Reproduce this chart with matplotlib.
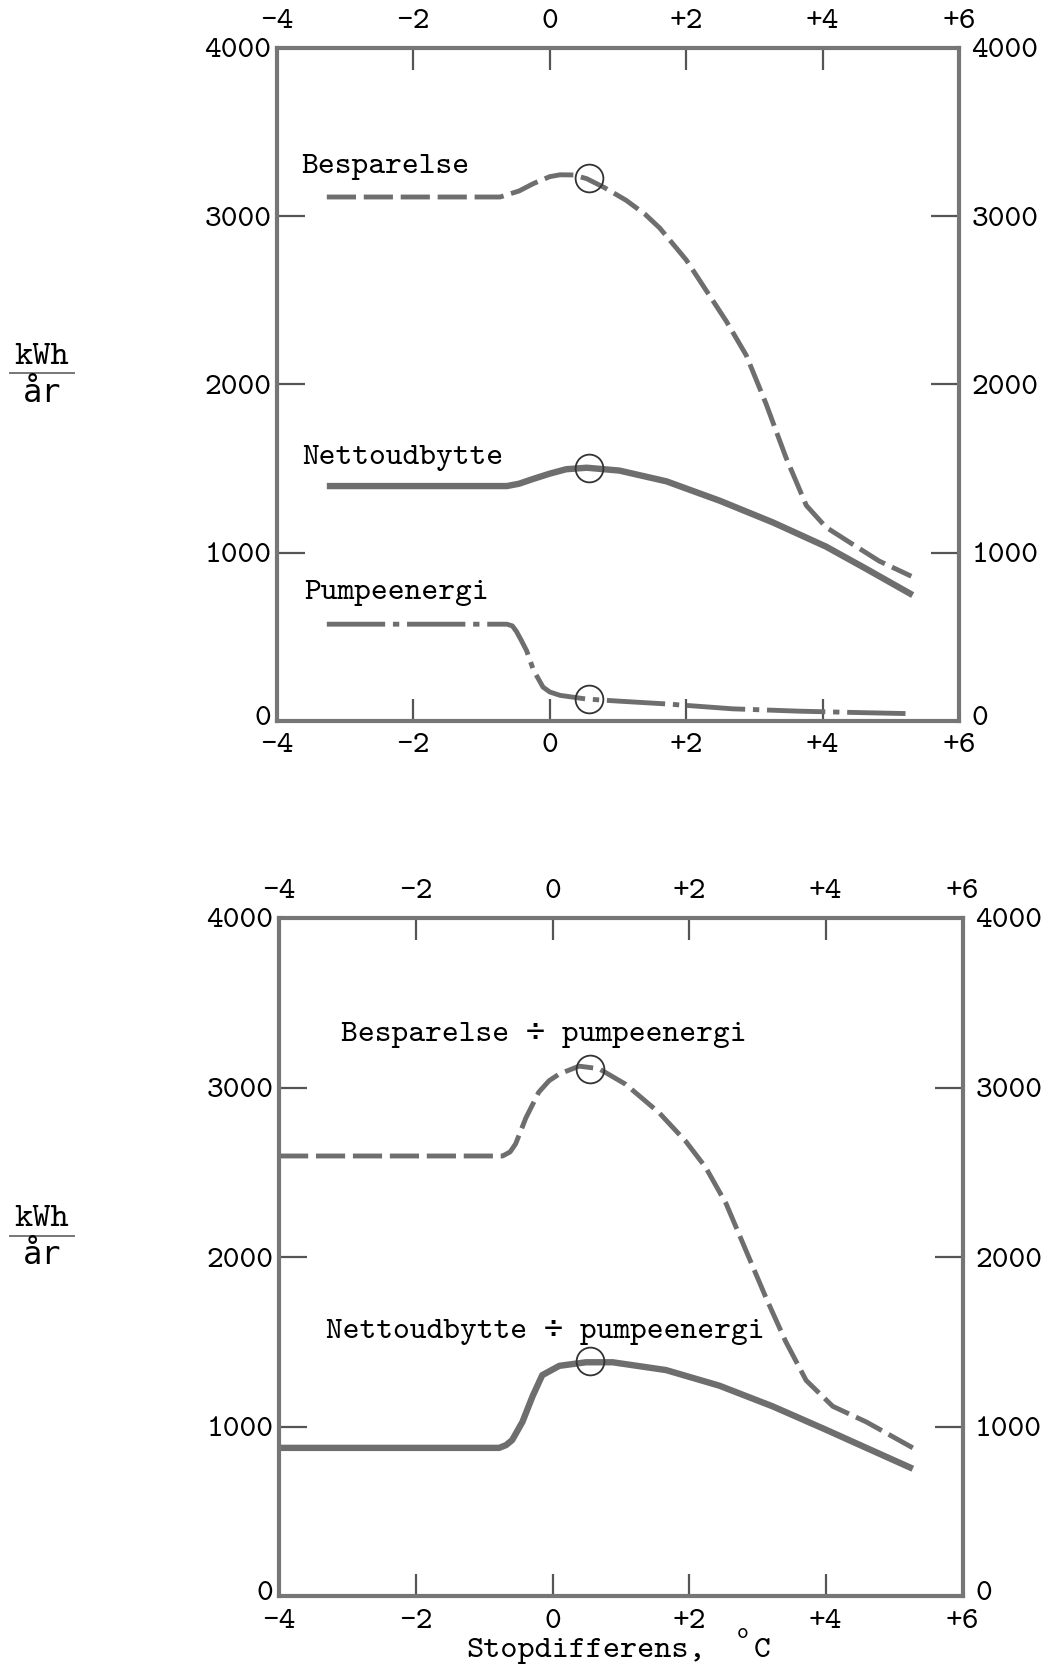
import matplotlib
matplotlib.use("Agg")
import matplotlib.pyplot as plt
from matplotlib.lines import Line2D
from matplotlib.transforms import ScaledTranslation

# ---- data (x: stopdifferens degC, y: kWh/aar) ----
besp_x = [-3.27, -2.0, -0.73, -0.45, -0.24, 0.0, 0.15, 0.35, 0.54, 0.8, 1.12, 1.4, 1.61, 2.0, 2.29,
          2.59, 2.88, 3.17, 3.46, 3.76, 4.05, 4.44, 4.83, 5.3]
besp_y = [3114, 3114, 3114, 3150, 3194, 3235, 3246, 3245, 3223, 3170, 3094, 3010, 2930, 2740, 2560,
          2374, 2173, 1885, 1568, 1281, 1151, 1050, 950, 860]

netto_x = [-3.27, -2.0, -0.63, -0.45, -0.24, 0.0, 0.24, 0.54, 1.02, 1.71, 2.49, 3.27, 4.05, 4.63, 5.32]
netto_y = [1396, 1396, 1396, 1410, 1439, 1470, 1496, 1505, 1488, 1424, 1309, 1180, 1036, 906, 748]

pumpe_x = [-3.27, -2.0, -0.63, -0.55, -0.49, -0.42, -0.34, -0.24, -0.1, 0.0, 0.15, 0.54, 1.0, 1.71,
           2.68, 3.66, 4.5, 5.32]
pumpe_y = [575, 575, 575, 565, 532, 480, 417, 302, 201, 172, 152, 130, 118, 101, 72, 58, 50, 43]

bp_x = [-4.0, -2.0, -0.73, -0.62, -0.54, -0.39, -0.2, -0.05, 0.1, 0.39, 0.68, 1.07, 1.56, 1.95, 2.24,
        2.54, 2.83, 3.12, 3.41, 3.71, 4.1, 4.59, 5.27]
bp_y = [2596, 2596, 2596, 2620, 2667, 2820, 2973, 3040, 3080, 3126, 3111, 3019, 2851, 2682, 2529,
        2314, 2038, 1762, 1502, 1272, 1119, 1027, 874]

np_x = [-4.0, -2.0, -0.78, -0.68, -0.59, -0.44, -0.29, -0.15, 0.1, 0.49, 0.88, 1.66, 2.44, 3.22,
        4.0, 4.59, 5.27]
np_y = [874, 874, 874, 890, 920, 1027, 1180, 1303, 1358, 1379, 1379, 1333, 1241, 1119, 981, 874, 751]

# optimum markers (circles)
opt_top_x = [0.58, 0.58, 0.58]
opt_top_y = [3225, 1505, 132]
opt_bot_x = [0.55, 0.55]
opt_bot_y = [3110, 1384]

xticks = [-4, -2, 0, 2, 4, 6]
xticklabels = ["-4", "-2", "0", "+2", "+4", "+6"]
yticks = [0, 1000, 2000, 3000, 4000]
yticklabels = ["0", "1000", "2000", "3000", "4000"]

FONT = ["cmtt10", "DejaVu Sans Mono"]
FS = 23
LC = "#6e6e6e"
plt.rcParams["font.family"] = FONT
plt.rcParams["axes.unicode_minus"] = False

fig = plt.figure(figsize=(10.47, 16.70), dpi=100)
ax1 = fig.add_axes([0.2646, 0.5683, 0.6514, 0.403])
ax2 = fig.add_axes([0.2665, 0.0443, 0.653, 0.406])


def frame(ax):
    ax.set_xlim(-4, 6); ax.set_ylim(0, 4000)
    for s in ax.spines.values():
        s.set_linewidth(3.0); s.set_color("#767676")
    ax.set_xticks(xticks); ax.set_xticklabels(xticklabels)
    ax.set_yticks(yticks); ax.set_yticklabels(yticklabels)
    ax.tick_params(axis="x", direction="in", length=16, width=1.6, color="#555555",
                   top=True, bottom=True, labeltop=True, labelbottom=True, labelsize=FS, pad=9)
    ax.tick_params(axis="y", direction="in", length=20, width=1.6, color="#555555",
                   left=True, right=True, labelleft=True, labelright=True, labelsize=FS, pad=4)
    right_shift = ScaledTranslation(5 / 72, 0, fig.dpi_scale_trans)
    up_shift = ScaledTranslation(0, 4 / 72, fig.dpi_scale_trans)
    for t in ax.yaxis.get_major_ticks():
        t.label2.set_transform(t.label2.get_transform() + right_shift)
        if t.get_loc() == 0:
            t.label1.set_transform(t.label1.get_transform() + up_shift)
            t.label2.set_transform(t.label2.get_transform() + up_shift)
    # no tick marks at the corners
    for t in ax.xaxis.get_major_ticks():
        if t.get_loc() in (-4, 6):
            t.tick1line.set_visible(False); t.tick2line.set_visible(False)
    for t in ax.yaxis.get_major_ticks():
        if t.get_loc() in (0, 4000):
            t.tick1line.set_visible(False); t.tick2line.set_visible(False)


frame(ax1); frame(ax2)

dash = (0, (6.0, 1.6))
dashdot = (0, (12, 1.6, 1.3, 1.6))

# top panel
ax1.plot(besp_x, besp_y, color=LC, lw=3.5, ls=dash)
ax1.plot(netto_x, netto_y, color=LC, lw=4.6, solid_capstyle="butt")
ax1.plot(pumpe_x, pumpe_y, color=LC, lw=3.5, ls=dashdot)
ax1.plot(opt_top_x, opt_top_y, ls="none", marker="o", ms=20, mfc="none", mec="#333333", mew=1.3)
ax1.text(-3.64, 3290, "Besparelse", fontsize=FS, va="center", ha="left")
ax1.text(-3.63, 1565, "Nettoudbytte", fontsize=FS, va="center", ha="left")
ax1.text(-3.60, 760, "Pumpeenergi", fontsize=FS, va="center", ha="left")

# bottom panel
ax2.plot(bp_x, bp_y, color=LC, lw=3.5, ls=dash)
ax2.plot(np_x, np_y, color=LC, lw=4.6, solid_capstyle="butt")
ax2.plot(opt_bot_x, opt_bot_y, ls="none", marker="o", ms=20, mfc="none", mec="#333333", mew=1.3)
ax2.text(-3.10, 3310, "Besparelse ÷ pumpeenergi", fontsize=FS, va="center", ha="left")
ax2.text(-3.31, 1560, "Nettoudbytte ÷ pumpeenergi", fontsize=FS, va="center", ha="left")

# x label with degree sign
fig.text(466 / 1047, 1 - 1657 / 1670, "Stopdifferens,", fontsize=FS + 0.5, ha="left", va="baseline")
fig.text(743 / 1047, 1 - 1633 / 1670, "o", fontsize=16, ha="center", va="center")
fig.text(762 / 1047, 1 - 1657 / 1670, "C", fontsize=FS, ha="center", va="baseline")

# kWh / aar unit labels
for yc in (373, 1236):
    fig.text(42 / 1047, 1 - (yc - 16) / 1670, "kWh", fontsize=FS + 2, ha="center", va="center")
    fig.text(42 / 1047, 1 - (yc + 20) / 1670, "år", fontsize=FS, ha="center", va="center",
             family=["DejaVu Sans Mono"])
    fig.add_artist(Line2D([10 / 1047, 74 / 1047], [1 - yc / 1670] * 2, color="#777777", lw=1.4))

fig.savefig("out.png", dpi=100, facecolor="white")
